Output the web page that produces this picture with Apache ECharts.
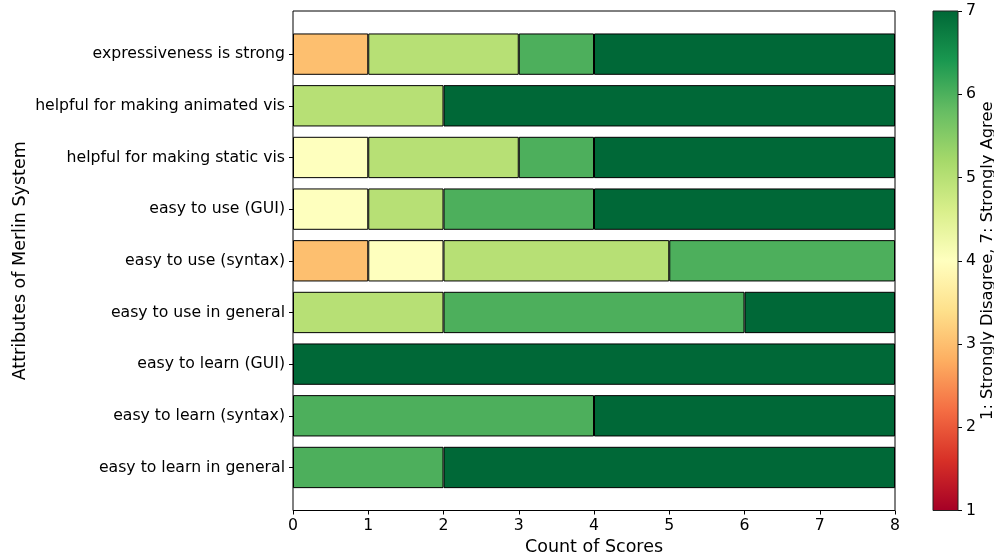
<!DOCTYPE html>
<html>
<head>
<meta charset="utf-8">
<script src="https://cdn.jsdelivr.net/npm/echarts@6/dist/echarts.min.js"></script>
<style>
html,body{margin:0;padding:0;background:#fff;}
#chart{width:994px;height:558px;}
</style>
</head>
<body>
<div id="chart"></div>
<script>
// Categories listed bottom to top
const categories = [
  "easy to learn in general",
  "easy to learn (syntax)",
  "easy to learn (GUI)",
  "easy to use in general",
  "easy to use (syntax)",
  "easy to use (GUI)",
  "helpful for making static vis",
  "helpful for making animated vis",
  "expressiveness is strong"
];
const scoreLevels = [3, 4, 5, 6, 7];
const score3 = [0, 0, 0, 0, 1, 0, 0, 0, 1];
const score4 = [0, 0, 0, 0, 1, 1, 1, 0, 0];
const score5 = [0, 0, 0, 2, 3, 1, 2, 2, 2];
const score6 = [2, 4, 0, 4, 3, 2, 1, 0, 1];
const score7 = [6, 4, 8, 2, 0, 4, 4, 6, 4];
const xTicks = [0, 1, 2, 3, 4, 5, 6, 7, 8];
const colorbarTicks = [1, 2, 3, 4, 5, 6, 7];

const scoreData = [score3, score4, score5, score6, score7];
const scoreColors = ["#fdbf6f", "#feffbe", "#b7e075", "#4daf5c", "#006837"];
const rdylgn = ["#a50026","#d73027","#f46d43","#fdae61","#fee08b","#ffffbf","#d9ef8b","#a6d96a","#66bd63","#1a9850","#006837"];

const font = "DejaVu Sans";
const tickSize = 15.7;
const titleSize = 17.5;
const chart = echarts.init(document.getElementById('chart'));

const series = scoreLevels.map((s, i) => ({
  name: "score " + s,
  type: 'bar',
  stack: 'total',
  xAxisIndex: 0,
  yAxisIndex: 0,
  barWidth: '80%',
  itemStyle: { color: scoreColors[i], borderColor: '#000', borderWidth: 1 },
  emphasis: { disabled: true },
  data: scoreData[i].map(v => v === 0 ? '-' : v)
}));

// colorbar drawn as one gradient bar spanning the colour scale
const cbMin = colorbarTicks[0], cbMax = colorbarTicks[colorbarTicks.length - 1];
series.push({
  name: 'colorbar',
  type: 'bar',
  xAxisIndex: 2,
  yAxisIndex: 2,
  barWidth: '100%',
  silent: true,
  itemStyle: {
    color: {
      type: 'linear', x: 0, y: 1, x2: 0, y2: 0,
      colorStops: rdylgn.map((c, i) => ({ offset: i / (rdylgn.length - 1), color: c }))
    }
  },
  data: [cbMax]
});

chart.setOption({
  animation: false,
  textStyle: { fontFamily: font },
  grid: [
    { left: 293, right: 99, top: 28.3, height: 465, show: false, outerBoundsMode: 'none', containLabel: false },
    { left: 293, right: 99, top: 11, bottom: 47.5, show: true, borderColor: '#000', borderWidth: 1, z: 5, outerBoundsMode: 'none', containLabel: false },
    { left: 933, width: 25, top: 11, bottom: 47.5, show: true, borderColor: '#222', borderWidth: 1, z: 5, outerBoundsMode: 'none', containLabel: false }
  ],
  xAxis: [
    { type: 'value', gridIndex: 0, min: xTicks[0], max: xTicks[xTicks.length - 1], show: false },
    { type: 'value', gridIndex: 1, min: xTicks[0], max: xTicks[xTicks.length - 1], interval: 1,
      splitLine: { show: false },
      axisLine: { show: false },
      axisTick: { show: true, length: 4, lineStyle: { color: '#000' } },
      axisLabel: { color: '#000', fontSize: tickSize, margin: 7, fontFamily: font },
      name: 'Count of Scores', nameLocation: 'middle', nameGap: 26,
      nameTextStyle: { color: '#000', fontSize: titleSize, fontFamily: font } },
    { type: 'category', gridIndex: 2, data: [''], show: false, boundaryGap: true }
  ],
  yAxis: [
    { type: 'category', gridIndex: 0, data: categories,
      axisLine: { show: false },
      axisTick: { show: true, length: 4, alignWithLabel: true, lineStyle: { color: '#000' } },
      axisLabel: { color: '#000', fontSize: tickSize, margin: 8, fontFamily: font },
      name: 'Attributes of Merlin System', nameLocation: 'middle', nameGap: 264, nameMoveOverlap: false,
      nameTextStyle: { color: '#000', fontSize: titleSize, fontFamily: font } },
    { type: 'value', gridIndex: 1, show: false },
    { type: 'value', gridIndex: 2, position: 'right', min: cbMin, max: cbMax, interval: 1, startValue: cbMin,
      splitLine: { show: false },
      axisLine: { show: false },
      axisTick: { show: true, length: 4, lineStyle: { color: '#000' } },
      axisLabel: { color: '#000', fontSize: tickSize, margin: 8, fontFamily: font },
      name: '1: Strongly Disagree, 7: Strongly Agree', nameLocation: 'middle', nameGap: 19, nameRotate: 90,
      nameTextStyle: { color: '#000', fontSize: 16.3, fontFamily: font } }
  ],
  series: series
});
</script>
</body>
</html>
